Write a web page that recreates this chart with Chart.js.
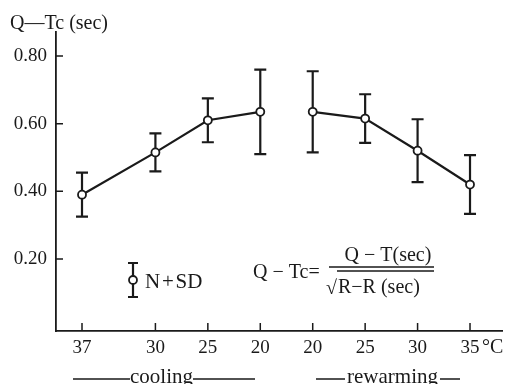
<!DOCTYPE html>
<html>
<head>
<meta charset="utf-8">
<script src="https://cdn.jsdelivr.net/npm/chart.js@4.4.1/dist/chart.umd.min.js"></script>
<style>
  html, body { margin: 0; padding: 0; background: #fff; }
  #wrap { width: 508px; height: 384px; }
</style>
</head>
<body>
<div id="wrap"><canvas id="chart" width="508" height="384"></canvas></div>
<script>
// x positions along the axis (temperature steps, with a break between phases)
const tickPositions = [0, 7, 12, 17, 22, 27, 32, 37];
const tickLabels = ['37', '30', '25', '20', '20', '25', '30', '35'];

const coolingX = [0, 7, 12, 17];
const coolingMean = [0.39, 0.515, 0.61, 0.635];
const coolingSD = [0.065, 0.056, 0.065, 0.125];

const rewarmX = [22, 27, 32, 37];
const rewarmMean = [0.635, 0.615, 0.52, 0.42];
const rewarmSD = [0.12, 0.072, 0.093, 0.087];

const yTicks = [0.2, 0.4, 0.6, 0.8];

const INK = '#1a1a1a';
const SERIF = '"Liberation Serif", "DejaVu Serif", serif';

function toPoints(xs, ys) {
  return xs.map((x, i) => ({ x, y: ys[i] }));
}

const errorBars = {
  id: 'errorBars',
  afterDatasetsDraw(chart) {
    const { ctx } = chart;
    const xs = chart.scales.x;
    const ys = chart.scales.y;
    const sets = [[coolingX, coolingMean, coolingSD], [rewarmX, rewarmMean, rewarmSD]];
    ctx.save();
    ctx.strokeStyle = INK;
    ctx.lineWidth = 2.2;
    sets.forEach(([xv, mv, sv]) => {
      xv.forEach((x, i) => {
        const px = xs.getPixelForValue(x);
        const top = ys.getPixelForValue(mv[i] + sv[i]);
        const bot = ys.getPixelForValue(mv[i] - sv[i]);
        const mid = ys.getPixelForValue(mv[i]);
        ctx.beginPath();
        ctx.moveTo(px, top); ctx.lineTo(px, mid - 4);
        ctx.moveTo(px, mid + 4); ctx.lineTo(px, bot);
        ctx.moveTo(px - 6, top); ctx.lineTo(px + 6, top);
        ctx.moveTo(px - 6, bot); ctx.lineTo(px + 6, bot);
        ctx.stroke();
      });
    });
    ctx.restore();
  },
};

// text with dashes drawn out to fixed ends, like "——cooling——"
function dashedLabel(ctx, text, cx, y, leftEnd, rightEnd, gap) {
  const w = ctx.measureText(text).width;
  ctx.fillText(text, cx, y);
  ctx.beginPath();
  ctx.moveTo(leftEnd, y - 4); ctx.lineTo(cx - w / 2 - gap, y - 4);
  ctx.moveTo(cx + w / 2 + gap, y - 4); ctx.lineTo(rightEnd, y - 4);
  ctx.stroke();
}

const decorations = {
  id: 'decorations',
  afterDraw(chart) {
    const { ctx } = chart;
    const xs = chart.scales.x;
    const ys = chart.scales.y;
    const area = chart.chartArea;
    ctx.save();
    ctx.strokeStyle = INK;
    ctx.fillStyle = INK;
    ctx.lineWidth = 1.5;

    // inward tick marks
    ctx.beginPath();
    tickPositions.forEach((p) => {
      const px = xs.getPixelForValue(p);
      ctx.moveTo(px, area.bottom);
      ctx.lineTo(px, area.bottom - 8);
    });
    yTicks.forEach((v) => {
      const py = ys.getPixelForValue(v);
      ctx.moveTo(area.left, py);
      ctx.lineTo(area.left + 7, py);
    });
    ctx.stroke();

    ctx.font = '20px ' + SERIF;
    ctx.textBaseline = 'alphabetic';

    // axis title
    ctx.textAlign = 'left';
    ctx.fillText('Q\u2014Tc (sec)', 10, 29);

    // unit after last x label
    const lastPx = xs.getPixelForValue(tickPositions[tickPositions.length - 1]);
    ctx.fillText('\u00b0C', lastPx + 12, 353);

    // legend marker
    ctx.lineWidth = 2.2;
    ctx.beginPath();
    ctx.moveTo(133, 263); ctx.lineTo(133, 276);
    ctx.moveTo(133, 284); ctx.lineTo(133, 297);
    ctx.moveTo(128, 263); ctx.lineTo(138, 263);
    ctx.moveTo(128, 297); ctx.lineTo(138, 297);
    ctx.stroke();
    ctx.lineWidth = 1.8;
    ctx.beginPath();
    ctx.arc(133, 280, 4, 0, Math.PI * 2);
    ctx.fillStyle = '#fff';
    ctx.fill();
    ctx.stroke();
    ctx.fillStyle = INK;
    ctx.font = '21px ' + SERIF;
    ctx.fillText('N\u200a+\u200aSD', 145, 288);

    // formula
    ctx.font = '20px ' + SERIF;
    ctx.fillText('Q \u2212 Tc=', 253, 278);
    ctx.textAlign = 'center';
    ctx.fillText('Q \u2212 T(sec)', 388, 261);
    ctx.lineWidth = 1.4;
    ctx.beginPath();
    ctx.moveTo(329, 267); ctx.lineTo(434, 267);
    ctx.moveTo(337, 271); ctx.lineTo(434, 271);
    ctx.stroke();
    ctx.textAlign = 'left';
    ctx.fillText('\u221a', 326, 294);
    ctx.fillText('R\u2212R (sec)', 338, 293);

    // phase labels
    ctx.font = '21px ' + SERIF;
    ctx.textAlign = 'center';
    ctx.lineWidth = 1.3;
    dashedLabel(ctx, 'cooling', 161.5, 383, 73, 255, 0);
    dashedLabel(ctx, 'rewarming', 392.5, 383, 316, 460, 2);
    ctx.restore();
  },
};

const lineStyle = {
  borderColor: INK,
  borderWidth: 2.2,
  pointRadius: 4,
  pointBorderWidth: 1.8,
  pointBackgroundColor: '#fff',
  pointBorderColor: INK,
  tension: 0,
};

new Chart(document.getElementById('chart'), {
  type: 'line',
  data: {
    datasets: [
      { label: 'cooling', data: toPoints(coolingX, coolingMean), ...lineStyle },
      { label: 'rewarming', data: toPoints(rewarmX, rewarmMean), ...lineStyle },
    ],
  },
  options: {
    responsive: false,
    animation: false,
    layout: { padding: { top: 32, right: 6, left: 0, bottom: 0 } },
    plugins: { legend: { display: false }, tooltip: { enabled: false } },
    scales: {
      x: {
        type: 'linear',
        min: -2.48,
        max: 40.05,
        afterFit(scale) { scale.height = 53; },
        afterBuildTicks(scale) { scale.ticks = tickPositions.map((v) => ({ value: v })); },
        ticks: {
          autoSkip: false,
          maxRotation: 0,
          padding: 6,
          color: INK,
          font: { family: SERIF, size: 19 },
          callback(value) { return tickLabels[tickPositions.indexOf(value)]; },
        },
        grid: { drawOnChartArea: false, drawTicks: false },
        border: { display: true, color: INK, width: 1.8 },
      },
      y: {
        min: -0.013,
        max: 0.871,
        afterFit(scale) { scale.width = 56; },
        afterBuildTicks(scale) { scale.ticks = yTicks.map((v) => ({ value: v })); },
        ticks: {
          padding: 9,
          color: INK,
          font: { family: SERIF, size: 19 },
          callback(value) { return value.toFixed(2); },
        },
        grid: { drawOnChartArea: false, drawTicks: false },
        border: { display: true, color: INK, width: 1.8 },
      },
    },
  },
  plugins: [errorBars, decorations],
});
</script>
</body>
</html>
